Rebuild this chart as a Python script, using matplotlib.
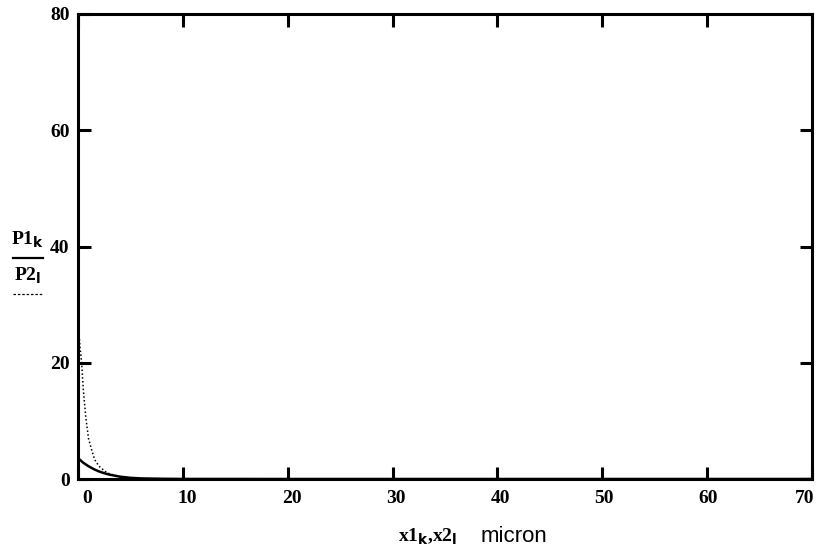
import numpy as np
from matplotlib import pyplot as plt
from matplotlib.lines import Line2D
import matplotlib.transforms as mtransforms

# values
x1 = [0.0, 0.25, 0.5, 0.75, 1.0, 1.5, 2.0, 2.5, 3.0, 4.0, 5.0, 6.0, 8.0, 10.0, 20.0, 40.0, 70.0]
p1 = [3.6, 3.2, 2.8, 2.5, 2.2, 1.7, 1.3, 1.0, 0.75, 0.4, 0.2, 0.1, 0.04, 0.01, 0.0, 0.0, 0.0]

x2 = [0.0, 0.1, 0.2, 0.35, 0.5, 0.75, 1.0, 1.3, 1.6, 2.0, 2.6, 3.0, 4.0, 5.0, 7.0, 10.0, 70.0]
p2 = [28.0, 25.0, 22.5, 20.0, 15.5, 10.5, 7.0, 5.0, 3.3, 2.2, 1.3, 0.9, 0.4, 0.15, 0.03, 0.0, 0.0]

xticks = [0, 10, 20, 30, 40, 50, 60, 70]
yticks = [0, 20, 40, 60, 80]

W, H = 819, 558
fig = plt.figure(figsize=(W / 100, H / 100), dpi=100)
ax = fig.add_axes([78 / W, 1 - 479 / H, (812 - 78) / W, (479 - 14) / H])

ax.plot(x1, p1, color="black", lw=1.8, solid_capstyle="butt")
ax.plot(x2, p2, color="black", lw=1.1, linestyle=(0, (1, 1.5)))

ax.set_xlim(0, 70)
ax.set_ylim(0, 80)
ax.set_xticks(xticks)
ax.set_yticks(yticks)

serif_bold = dict(family="Liberation Serif", weight="bold", size=14)
ax.set_xticklabels([str(v) for v in xticks], fontdict=serif_bold)
ax.set_yticklabels([str(v) for v in yticks], fontdict=serif_bold)

for s in ax.spines.values():
    s.set_linewidth(2.2)
ax.tick_params(direction="in", length=9, width=2.2, top=True, right=True,
               labeltop=False, labelright=False)
ax.tick_params(axis="x", pad=8)
ax.tick_params(axis="y", pad=6)

# the scanned labels sit a little right of their ticks; first/last pulled inward
shifts = [9, 4, 4, 3, 3, 2, 1, -7]
for lab, dx in zip(ax.get_xticklabels(), shifts):
    lab.set_transform(lab.get_transform() +
                      mtransforms.ScaledTranslation(dx / 100, 0, fig.dpi_scale_trans))

# mathcad-style legend on the left
fig.text(28 / W, 1 - 240 / H, r"P1$_{\mathbf{k}}$", ha="center", va="center",
         family="Liberation Serif", weight="bold", size=14)
fig.add_artist(Line2D([13 / W, 43 / W], [1 - 258 / H, 1 - 258 / H],
                      color="black", lw=1.6))
fig.text(28 / W, 1 - 276 / H, r"P2$_{\mathbf{l}}$", ha="center", va="center",
         family="Liberation Serif", weight="bold", size=14)
fig.add_artist(Line2D([13 / W, 43 / W], [1 - 294 / H, 1 - 294 / H],
                      color="black", lw=0.9, linestyle=(0, (2, 1.5))))

# x axis label
fig.text(428 / W, 1 - 537 / H, r"x1$_{\mathbf{k}}$,x2$_{\mathbf{l}}$",
         ha="center", va="center", family="Liberation Serif", weight="bold", size=14)
fig.text(514 / W, 1 - 537 / H, "micron", ha="center", va="center",
         family="Liberation Sans", size=16)

fig.savefig("out.png", dpi=100)
